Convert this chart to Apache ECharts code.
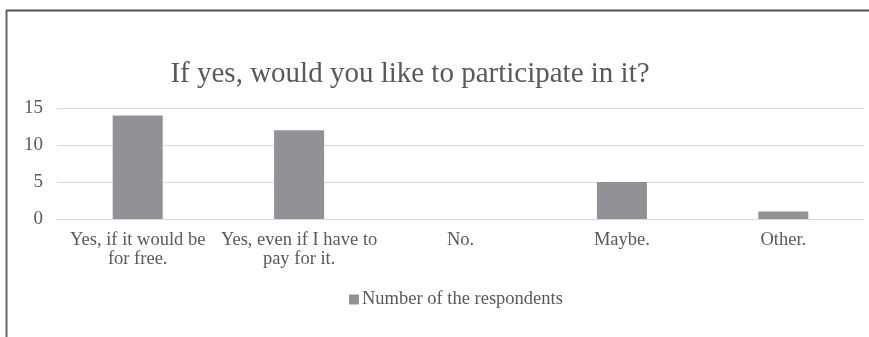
<!DOCTYPE html>
<html>
<head>
<meta charset="utf-8">
<script src="https://cdn.jsdelivr.net/npm/echarts@6/dist/echarts.min.js"></script>
<style>
  html, body { margin: 0; padding: 0; background: #ffffff; }
  #chart { width: 869px; height: 337px; }
</style>
</head>
<body>
<div id="chart"></div>
<script>
// Survey answers and respondent counts
const categories = [
  'Yes, if it would be\nfor free.',
  'Yes, even if I have to\npay for it.',
  'No.',
  'Maybe.',
  'Other.'
];
const respondents = [14, 12, 0, 5, 1];
const yTicks = [0, 5, 10, 15];
const seriesName = 'Number of the respondents';
const chartTitle = 'If yes, would you like to participate in it?';

const serif = '"Liberation Serif", "DejaVu Serif", serif';
const chart = echarts.init(document.getElementById('chart'), null, { renderer: 'canvas' });

chart.setOption({
  animation: false,
  backgroundColor: '#ffffff',
  title: {
    text: chartTitle,
    left: 405,
    top: 55,
    textAlign: 'center',
    textStyle: { fontFamily: serif, fontSize: 29, fontWeight: 'normal', color: '#595959' }
  },
  legend: {
    data: [seriesName],
    left: 344,
    top: 285,
    icon: 'rect',
    itemWidth: 10,
    itemHeight: 10,
    itemGap: 4,
    textStyle: { fontFamily: serif, fontSize: 18.5, color: '#595959', padding: [0, 0, 0, -2] }
  },
  grid: { left: 57, right: 5, top: 108, bottom: 118, containLabel: false },
  xAxis: {
    type: 'category',
    data: categories,
    axisLine: { show: true, lineStyle: { color: '#d9d9d9', width: 1 } },
    axisTick: { show: false },
    axisLabel: {
      fontFamily: serif, fontSize: 18.5, color: '#595959',
      interval: 0, margin: 12, lineHeight: 19
    }
  },
  yAxis: {
    type: 'value',
    min: yTicks[0],
    max: yTicks[yTicks.length - 1],
    interval: 5,
    axisLine: { show: false },
    axisTick: { show: false },
    splitLine: { lineStyle: { color: '#d9d9d9', width: 1 } },
    axisLabel: { fontFamily: serif, fontSize: 19, color: '#595959', margin: 14 }
  },
  series: [{
    name: seriesName,
    type: 'bar',
    data: respondents,
    barWidth: '31%',
    itemStyle: { color: '#929296' }
  }],
  graphic: [
    // frame lines along the top and left edge
    { type: 'line', shape: { x1: 6, y1: 10.5, x2: 869, y2: 10.5 }, style: { stroke: '#555555', lineWidth: 2 } },
    { type: 'line', shape: { x1: 6.5, y1: 10, x2: 6.5, y2: 337 }, style: { stroke: '#666666', lineWidth: 2 } }
  ]
});
</script>
</body>
</html>
